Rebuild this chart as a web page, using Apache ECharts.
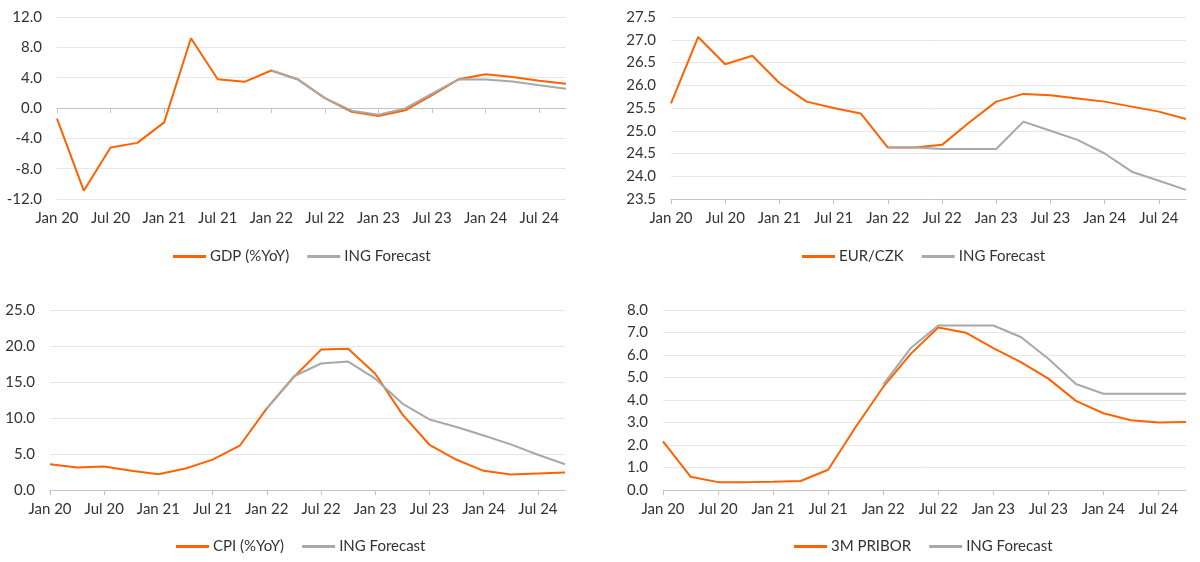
<!DOCTYPE html>
<html>
<head>
<meta charset="utf-8">
<script src="https://cdn.jsdelivr.net/npm/echarts@6/dist/echarts.min.js"></script>
<style>
html,body{margin:0;padding:0;background:#fff;}
#c{width:1200px;height:562px;}
</style>
</head>
<body>
<div id="c"></div>
<script>
const categories = ["Jan 20","Apr 20","Jul 20","Oct 20","Jan 21","Apr 21","Jul 21","Oct 21","Jan 22","Apr 22","Jul 22","Oct 22","Jan 23","Apr 23","Jul 23","Oct 23","Jan 24","Apr 24","Jul 24","Oct 24"];

const gdp      = [-1.4,-10.9,-5.2,-4.6,-1.9,9.2,3.8,3.45,4.95,3.75,1.3,-0.5,-1.05,-0.3,1.7,3.8,4.45,4.1,3.6,3.2];
const gdpF     = [null,null,null,null,null,null,null,null,4.95,3.75,1.3,-0.35,-0.9,-0.05,1.9,3.8,3.75,3.5,3.0,2.55];

const eurczk   = [25.6,27.06,26.46,26.65,26.05,25.64,25.5,25.38,24.63,24.63,24.69,25.18,25.64,25.81,25.78,25.71,25.64,25.53,25.42,25.26];
const eurczkF  = [null,null,null,null,null,null,null,null,24.63,24.63,24.6,24.6,24.6,25.2,25.0,24.8,24.5,24.1,23.9,23.7];

const cpi      = [3.58,3.12,3.26,2.66,2.2,2.98,4.22,6.15,11.33,15.7,19.5,19.63,16.15,10.5,6.28,4.2,2.66,2.16,2.3,2.43];
const cpiF     = [null,null,null,null,null,null,null,null,11.33,15.8,17.57,17.84,15.46,12.0,9.8,8.76,7.57,6.33,4.9,3.58];

const pribor   = [2.16,0.59,0.35,0.35,0.37,0.4,0.9,2.8,4.58,6.05,7.22,6.99,6.31,5.68,4.95,3.96,3.41,3.1,3.0,3.02];
const priborF  = [null,null,null,null,null,null,null,null,4.68,6.31,7.31,7.31,7.31,6.8,5.83,4.71,4.28,4.28,4.28,4.28];

const ORANGE = '#FF6200';
const GRAY = '#A8A8A8';
const FONT = 'Lato';
const TXT = '#333333';
const FS = 15;

const chart = echarts.init(document.getElementById('c'), null, {renderer:'canvas'});

const grids = [
  {left:57, top:17, width:509, height:182},
  {left:671, top:17, width:515, height:182},
  {left:50, top:310, width:515, height:180},
  {left:663, top:310, width:523, height:180}
];

function xAx(gi, opts) {
  return Object.assign({
    type:'category', gridIndex:gi, data:categories, boundaryGap:false, position:'bottom',
    axisLine:{show:true, onZero:false, lineStyle:{color:'#c4c4c4', width:1}},
    axisTick:{show:true, interval:1, length:5, lineStyle:{color:'#c4c4c4'}},
    axisLabel:{interval:1, color:TXT, fontFamily:FONT, fontSize:FS, margin:12},
    splitLine:{show:false}
  }, opts || {});
}
function yAx(gi, min, max, interval) {
  return {
    type:'value', gridIndex:gi, min:min, max:max, interval:interval,
    axisLine:{show:false}, axisTick:{show:false},
    axisLabel:{color:TXT, fontFamily:FONT, fontSize:FS, margin:15, formatter:v=>v.toFixed(1)},
    splitLine:{show:true, lineStyle:{color:'#e6e6e6', width:1}}
  };
}
function line(name, data, xi, yi, color) {
  return {name:name, type:'line', data:data, xAxisIndex:xi, yAxisIndex:yi, showSymbol:false, symbol:'none',
    lineStyle:{color:color, width:2}, itemStyle:{color:color}, connectNulls:false, animation:false};
}
function legend(idx, left, top, first) {
  return {
    left:left, top:top, itemWidth:33, itemHeight:3, icon:'rect', itemGap:18,
    textStyle:{color:TXT, fontFamily:FONT, fontSize:FS, padding:[0,0,0,-1]},
    data:[{name:first}, {name:'ING Forecast ' + idx}],
    formatter: n => n.startsWith('ING Forecast') ? 'ING Forecast' : n
  };
}

const option = {
  animation:false,
  backgroundColor:'#ffffff',
  grid: grids,
  xAxis: [
    xAx(0, {axisLine:{show:true, onZero:true, lineStyle:{color:'#c4c4c4', width:1}}, axisLabel:{show:false}}),
    xAx(0, {axisLine:{show:false, onZero:false}, axisTick:{show:false}}),
    xAx(1),
    xAx(2),
    xAx(3)
  ],
  yAxis: [
    yAx(0, -12, 12, 4),
    yAx(1, 23.5, 27.5, 0.5),
    yAx(2, 0, 25, 5),
    yAx(3, 0, 8, 1)
  ],
  legend: [
    legend(1, 168, 244, 'GDP (%YoY)'),
    legend(2, 797, 244, 'EUR/CZK'),
    legend(3, 171, 534, 'CPI (%YoY)'),
    legend(4, 789, 534, '3M PRIBOR')
  ],
  series: [
    line('GDP (%YoY)', gdp, 0, 0, ORANGE),
    line('ING Forecast 1', gdpF, 0, 0, GRAY),
    line('EUR/CZK', eurczk, 2, 1, ORANGE),
    line('ING Forecast 2', eurczkF, 2, 1, GRAY),
    line('CPI (%YoY)', cpi, 3, 2, ORANGE),
    line('ING Forecast 3', cpiF, 3, 2, GRAY),
    line('3M PRIBOR', pribor, 4, 3, ORANGE),
    line('ING Forecast 4', priborF, 4, 3, GRAY)
  ]
};
chart.setOption(option);
</script>
</body>
</html>
